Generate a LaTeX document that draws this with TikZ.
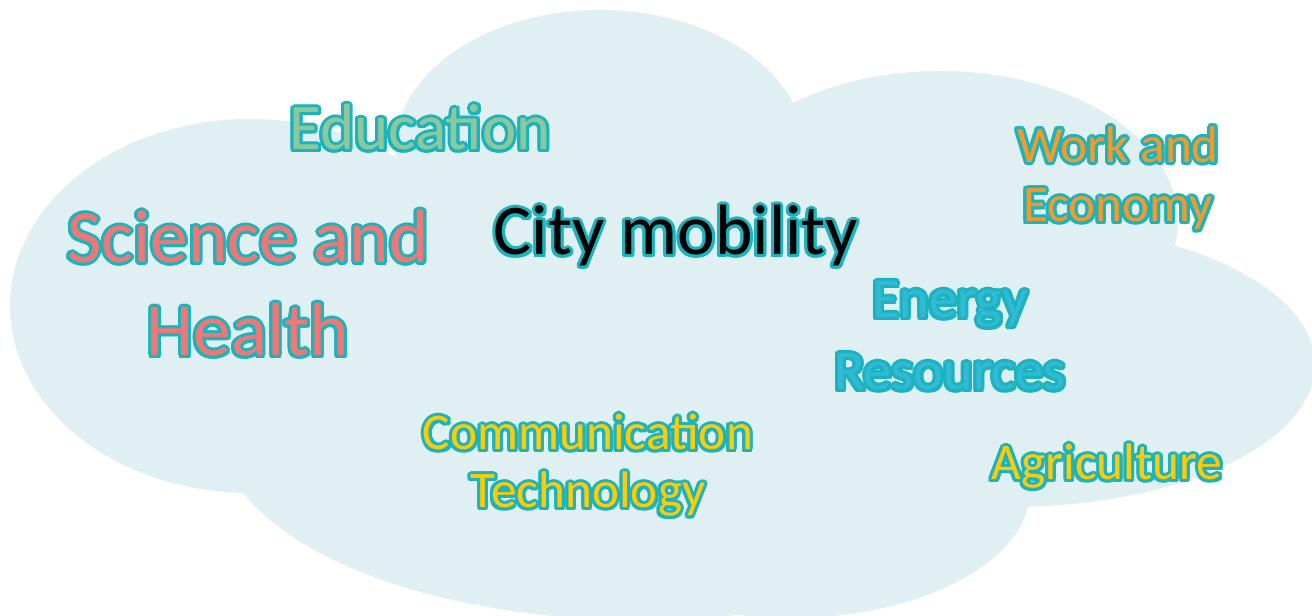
\documentclass[tikz,border=0pt]{standalone}
\usepackage{fontspec}
\setmainfont{Carlito}

% one word of the cloud: teal rim underneath, coloured letters on top
% #1 name, #2 position (baseline of last line), #3 size, #4 line skip, #5 colour, #6 text
\newcommand\cloudword[6]{%
  \foreach \a [count=\i] in {0,22.5,...,337.5}
    \node[rim, font=\fontsize{#3}{#4}\selectfont] (#1-rim\i) at ([shift={(\a:0.03)}]#2) {#6};
  \node[word, text=#5, font=\fontsize{#3}{#4}\selectfont] (#1) at (#2) {#6};
}

\begin{document}
\begin{tikzpicture}[
    word/.style={anchor=base, align=center, inner sep=0pt},
    rim/.style={word, text=rimteal}]
  \definecolor{cloudblue}{HTML}{E0EFF2}
  \definecolor{rimteal}{HTML}{1BB4BD}
  \definecolor{salmon}{HTML}{EF7775}
  \definecolor{sage}{HTML}{8CC89C}
  \definecolor{amber}{HTML}{F39A2B}
  \definecolor{skyblue}{HTML}{31B9D8}
  \definecolor{sun}{HTML}{FFCB05}
  \useasboundingbox (0,0) rectangle (13.12,6.16);
  \clip (0,0) rectangle (13.12,6.16);
  % the cloud: overlapping lobes
  \fill[cloudblue] (2.50,3.10) ellipse [x radius=2.40, y radius=1.87];
  \fill[cloudblue] (6.00,4.66) ellipse [x radius=2.05, y radius=1.40];
  \fill[cloudblue] (9.40,3.95) ellipse [x radius=2.38, y radius=1.50];
  \fill[cloudblue] (10.10,2.51) ellipse [x radius=3.05, y radius=1.42];
  \fill[cloudblue] (6.40,1.86) ellipse [x radius=4.20, y radius=1.90];
  \fill[cloudblue] (7.90,1.26) ellipse [x radius=2.40, y radius=1.28];
  \fill[cloudblue] (2.5,3.0) -- (6.0,4.5) -- (9.4,3.9) -- (10.1,2.5) -- (7.9,1.3) -- (6.4,1.9) -- cycle;
  % words
  \cloudword{science}{2.48,2.60}{21.4pt}{26.5pt}{salmon}{Science and\\Health}
  \cloudword{education}{4.20,4.66}{18.5pt}{22pt}{sage}{Education}
  \cloudword{mobility}{6.76,3.61}{20.3pt}{24pt}{black}{City mobility}
  \cloudword{work}{11.18,3.94}{14.6pt}{17pt}{amber}{Work and\\Economy}
  \cloudword{energy}{9.50,2.26}{16pt}{20.5pt}{skyblue}{Energy\\Resources}
  \cloudword{communication}{5.88,1.08}{14.6pt}{16.5pt}{sun}{Communication\\Technology}
  \cloudword{agriculture}{11.07,1.36}{14.6pt}{17pt}{sun}{Agriculture}
\end{tikzpicture}
\end{document}
